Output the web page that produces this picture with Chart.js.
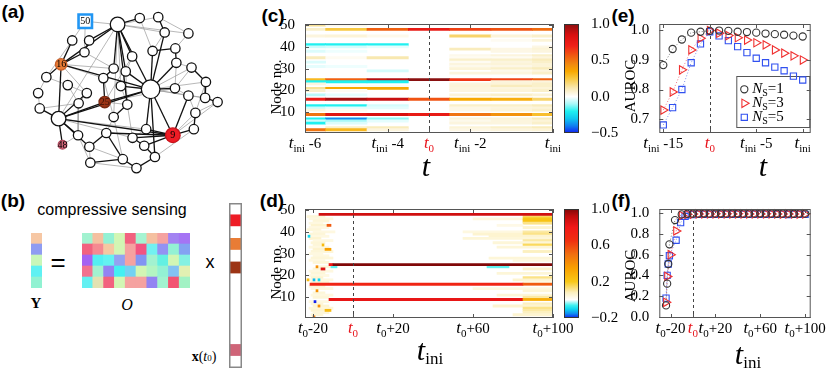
<!DOCTYPE html>
<html>
<head>
<meta charset="utf-8">
<script src="https://cdn.jsdelivr.net/npm/chart.js@4.4.0/dist/chart.umd.min.js"></script>
<style>
  body { margin: 0; background: #fff; }
  #wrap { position: relative; width: 831px; height: 370px; overflow: hidden; background: #fff; }
  #wrap canvas { position: absolute; }
  .lab { position: absolute; transform: translate(-50%, -50%); line-height: 1; white-space: nowrap; color: #000; }
  .pl { font: bold 19px "Liberation Sans", Arial, sans-serif; }
  .sans { font-family: "Liberation Sans", Arial, sans-serif; }
  .serif { font-family: "Liberation Serif", "Times New Roman", serif; }
</style>
</head>
<body>
<div id="wrap">
  <div class="lab pl" style="left:13px;top:12px">(a)</div>
  <div class="lab pl" style="left:13px;top:201px">(b)</div>
  <div class="lab pl" style="left:273px;top:16px">(c)</div>
  <div class="lab pl" style="left:272px;top:201px">(d)</div>
  <div class="lab pl" style="left:623px;top:16px">(e)</div>
  <div class="lab pl" style="left:621px;top:201px">(f)</div>
  <div class="lab sans" style="left:112px;top:210px;font-size:16px">compressive sensing</div>
  <div class="lab sans" style="left:58px;top:262px;font-size:26px">=</div>
  <div class="lab sans" style="left:210px;top:262px;font-size:18px">x</div>
  <div class="lab serif" style="left:36px;top:303px;font-size:15px;font-weight:bold">Y</div>
  <div class="lab serif" style="left:127px;top:305px;font-size:16px;font-style:italic">O</div>
  <div class="lab serif" style="left:204px;top:357px;font-size:14px"><b>x</b>(<i>t</i><span style="font-size:9px">0</span>)</div>
</div>
<script>
// ---------- data ----------
// (a) network layout (layout units 0-100) and links
const nodeX = [43.3,60.3,13,71.7,14.3,36.7,15,26.7,54.7,64.2,67.5,79.7,20,28.7,26.3,50.8,61.3,73,73.5,41.3,47.5,36,6.7,81.3,88.7,17.7,27.5,2.5,45,72.8,79.7,88.3,94.7,23.3,48.3,3.3,41.3,83.3,58,82.5,23,37.5,51,57,28.8,46,62.5,29.3,53];
const nodeY = [7,47.6,66,76.4,32,55.6,82.4,5,3,2.4,12,12.6,17,17,24.4,27,23.6,22,31,34.6,36.4,40.6,40,34,43,45,50,50,45.6,47,51.6,53,55.6,56.4,57.2,59.6,65,62.4,72.6,72.6,76.4,75,78,83,83.6,91.4,90,93.6,97];
const labeledNodes = [3, 4, 5, 6, 7];
const labeledText = ['9', '16', '25', '48', '50'];
const strongLinks = [[0,13],[0,4],[0,19],[0,1],[0,15],[0,20],[0,8],[0,34],[4,12],[4,2],[4,1],[4,22],[4,14],[13,14],
  [2,1],[2,3],[2,5],[2,6],[2,40],[2,35],[2,26],[2,44],[1,3],[1,10],[1,16],[1,29],[1,38],[1,5],[1,46],[1,18],[1,28],[1,20],
  [3,38],[3,39],[3,42],[3,43],[3,41],[3,30],[41,45],[41,44],[42,43],[45,48],[45,47],[46,48],[43,46],
  [10,9],[17,18],[23,24],[24,31],[31,32],[37,39],[19,21],[21,5],[36,34],[16,17]];
const weakLinks = [[7,0],[7,12],[7,14],[0,9],[0,11],[0,10],[0,2],[0,36],[0,28],[8,16],[9,11],[11,17],[10,16],
  [4,21],[4,19],[4,26],[12,22],[14,19],[15,28],[15,5],[20,34],[21,36],[22,27],[22,25],[25,33],[25,26],[27,35],
  [35,33],[26,33],[33,40],[40,47],[40,6],[44,47],[2,38],[2,42],[5,34],[5,29],[28,34],[34,42],[36,41],[38,42],
  [18,23],[23,29],[29,30],[30,37],[24,37],[32,37],[31,30],[18,29],[1,23],[1,24],[1,31],[1,30],[3,37],[3,32],
  [39,46],[36,45],[44,45],[47,48]];

// (b) compressive sensing cartoon
const yVecColors = ['#f6c7a4','#8f9cf2','#c9f7b9','#5ff1f3','#91f2d2'];
const oColumns = ['1','2','3','4','5','6','7','8','9','10'];
const oMatrix = [
  ['#a2f2d0','#f5c0a0','#93f1d4','#d2f6b4','#f2627f','#a6f4d2','#f5c0a0','#f5a2a0','#a383f2','#a574f4'],
  ['#f2627f','#f58a92','#f5c8a2','#d2f6b4','#f5a2a0','#f25481','#72f1f1','#9392f2','#93f1d4','#84a2f2'],
  ['#a463f2','#53f0f2','#63f3f1','#93a2f2','#f5a2a0','#8294f2','#a2f2d0','#63f0e2','#d2f6b4','#84f1e2'],
  ['#f2728f','#a2f2d0','#9383f2','#43f0f2','#73d2f2','#d2f6b4','#b3f5c2','#93f1d4','#83c2f2','#e2f0b2'],
  ['#63f0f2','#e2e2b2','#f2627f','#d2f6b4','#f5a2a0','#f5a2a0','#9383f2','#a2f2d0','#f25472','#a2f2c4']
];
const xVecColors = ['#ffffff','#ee1c25','#ffffff','#e97c35','#ffffff','#9c3415','#ffffff','#ffffff','#ffffff','#ffffff','#ffffff','#ffffff','#cf6478','#ffffff'];

// (c) heatmap: columns t_ini-6 ... t_ini, rows = node numbers
const cTimes = [-6, -5, -4, -3, -2, -1, 0];
const heatCNodes = [50,48,45,43,41,40,39,38,36,35,34,33,32,31,30,29,28,25,24,23,22,21,20,18,16,13,12,11,9,7,6,5,3,2];
const heatCValues = [
  [0.15,0.03,0,0,0,0,0],
  [0.08,0.25,0.55,0.75,0.62,0.58,0.52],
  [0.05,0.06,0.03,0,0.2,0.06,0.08],
  [0,0,0,0,0,0.02,0.06],
  [-0.2,-0.2,-0.2,0,0,0,0],
  [-0.06,-0.05,-0.03,0,0,0,0.04],
  [0,0,0,0,0.1,0.04,0.06],
  [-0.04,-0.02,0,0,0,0.04,0.05],
  [0,0,0,0,0.03,0.05,0.08],
  [0.1,0.02,0.12,0,0.02,0.02,0.05],
  [0,0,0,0,0.08,0.08,0.1],
  [-0.04,0,0,0,0.02,0.05,0.08],
  [0,0,0,0,0.05,0.06,0.06],
  [-0.03,-0.02,0,0,0.03,0.04,0.06],
  [0,0,0,0,0.06,0.08,0.1],
  [0,0,-0.05,0,0,0.03,0.05],
  [0,0,0,0,0.05,0.05,0.08],
  [0.3,0.55,0.92,1.0,0.65,0.62,0.55],
  [-0.2,-0.2,-0.2,0,0,0.05,0.05],
  [0.05,0,0,0,0.05,0.06,0.08],
  [0,0.02,0.02,0,0.06,0.1,0.08],
  [0.15,0.35,0.35,0,0.05,0.05,0.06],
  [0.08,0.02,0,0,0.05,0.06,0.08],
  [-0.08,-0.03,0,0,0.06,0.08,0.06],
  [0.75,0.95,0.88,0.58,0.35,0.33,0.2],
  [-0.2,-0.2,-0.05,0,0.08,0.08,0.1],
  [-0.06,-0.03,-0.03,0,0.04,0.05,0.06],
  [0.05,0.02,0,0,0.04,0.06,0.08],
  [0.5,0.8,0.85,0.75,0.5,0.42,0.28],
  [-0.2,-0.38,-0.12,0,0.06,0.06,0.1],
  [-0.06,-0.1,-0.03,0,0.03,0.05,0.06],
  [-0.2,-0.04,0,0,0.05,0.05,0.08],
  [0,0.08,0.1,0,0.06,0.08,0.1],
  [0.5,0.3,0.05,0,0.04,0.05,0.06]
];
const cTickVals = [-6, -4, -3, -2, 0];
const cTickSubs = ['ini', 'ini', '0', 'ini', 'ini'];
const cTickSuffix = [' -6', ' -4', '', ' -2', ''];
const cYTicks = [10, 20, 30, 40, 50];
const cBarTicks = [-0.5, 0, 0.5, 1.0];

// (d) heatmap as runs along t_ini: [node, from, to, value]
const heatDSegs = [
  [47,-23,-14,0.05],[46,-22,-10,0.04],[45,-20,-12,0.05],[44,-22,-15,0.04],[43,-21,-13,0.06],[42,-22,-12,0.04],
  [41,-23,-16,0.05],[40,-20,-9,0.04],[39,-22,-14,0.05],[38,-21,-12,0.04],[37,-22,-16,0.06],[36,-20,-10,0.04],
  [35,-21,-14,0.05],[34,-20,-16,0.05],[33,-22,-12,0.04],[32,-20,-14,0.06],[31,-21,-10,0.05],[30,-22,-15,0.04],
  [29,-20,-12,0.04],[28,-21,-10,0.05],[27,-22,-14,0.04],[26,-20,-12,0.05],[24,-17,-11,0.05],[23,-20,-16,0.05],
  [22,-22,-10,0.04],[21,-21,-14,0.05],[20,-22,-12,0.04],[19,-21,-15,0.06],[18,-22,-10,0.04],[17,-21,-12,0.05],
  [15,-22,-14,0.05],[14,-21,-10,0.04],[12,-20,-14,0.05],[11,-21,-10,0.04],[10,-20,-12,0.05],[8,-22,-12,0.04],
  [7,-21,-15,0.05],[6,-20,-12,0.06],[5,-22,-10,0.05],[4,-21,-14,0.06],[3,-20,-12,0.05],[2,-21,-15,0.05],
  [43,-13,-11,0.55],[38,-22.5,-21.5,-0.1],[34,-15.5,-14.5,0.25],[32,-14,-11,0.35],[24,-18.5,-17.5,0.4],
  [24,-11,-8,-0.05],[23,-16,-14,0.85],[18,-23,-22,0.25],[18,-20,-19,-0.12],[18,-17.5,-16.5,-0.1],
  [13,-18.5,-17.5,0.4],[8,-19.5,-18.5,-0.2],[6,-17.5,-16.5,0.4],[4,-14,-11,0.25],[1,-20,-19,0.45],
  [47,85,100,0.15],[46,60,85,0.04],[46,85,100,0.2],[45,85,100,0.22],[44,85,100,0.12],[43,72,85,0.03],
  [42,85,100,0.06],[40,55,85,0.04],[40,85,100,0.1],[39,60,85,0.06],[39,85,100,0.12],[38,68,100,0.06],
  [37,55,100,0.05],[36,85,100,0.1],[35,70,100,0.05],[34,85,100,0.15],[33,72,100,0.05],[31,85,100,0.08],
  [28,68,100,0.05],[27,80,100,0.04],[24,67,78,-0.05],[23,85,100,0.06],[21,72,100,0.05],[19,85,100,0.12],
  [18,80,100,0.06],[17,85,100,0.04],[14,60,100,0.04],[13,85,100,0.05],[11,72,100,0.05],[10,85,100,0.1],
  [7,85,100,0.08],[6,70,100,0.06],[5,85,100,0.12],[4,85,100,0.1],[3,85,100,0.08],[2,80,100,0.06],
  [48,-17,100,0.88],[25,-12,-10,0.8],[25,-10,100,1.0],[16,-21.5,85,0.72],[16,85,100,0.55],[9,-12,85,0.82],[9,85,100,0.3]
];
const dTickVals = [-20, 0, 20, 60, 100];
const dTickSubs = ['0', '0', '0', '0', '0'];
const dTickSuffix = ['-20', '', '+20', '+60', '+100'];
const dBarTicks = [-0.2, 0, 0.2, 0.4, 0.6, 0.8, 1.0];

// (e) AUROC vs t
const eT = [-15,-14,-13,-12,-11,-10,-9,-8,-7,-6,-5,-4,-3,-2,-1,0];
const eN1 = [0.882,0.936,0.968,0.991,0.994,0.997,0.998,0.997,0.994,0.993,0.991,0.988,0.986,0.984,0.981,0.978];
const eN3 = [0.731,0.792,0.866,0.933,0.972,0.998,0.989,0.981,0.974,0.966,0.957,0.950,0.933,0.922,0.913,0.899];
const eN5 = [0.681,0.739,0.800,0.890,0.953,0.994,0.980,0.964,0.944,0.924,0.905,0.890,0.875,0.863,0.845,0.832];
const eTickVals = [-15, -10, -5, 0];
const eTickSubs = ['ini', '0', 'ini', 'ini'];
const eTickSuffix = [' -15', '', ' -5', ''];
const eYTicks = [0.7, 0.8, 0.9, 1.0];

// (f) AUROC vs t_ini (t relative to t0)
const fEarlyT1 = [-24,-23,-22,-21,-16,-10];
const fEarly1 = [0.11,0.32,0.51,0.70,0.935,0.99];
const fEarlyT3 = [-24,-23,-20,-15,-10];
const fEarly3 = [0.14,0.39,0.60,0.83,0.98];
const fEarlyT5 = [-24,-23,-22,-21,-15,-11,-7];
const fEarly5 = [0.18,0.40,0.51,0.59,0.74,0.91,0.97];
const fLateT = [-5,0,5,10,15,20,25,30,35,40,45,50,55,60,65,70,75,80,85,90,95,100];
const fLate1 = [0.995,0.997,0.997,0.998,0.997,0.997,0.998,0.997,0.997,0.998,0.997,0.997,0.997,0.998,0.997,0.997,0.996,0.997,0.997,0.996,0.997,0.997];
const fLate3 = [0.99,0.993,0.994,0.995,0.994,0.995,0.994,0.995,0.994,0.995,0.994,0.994,0.995,0.994,0.995,0.994,0.994,0.993,0.994,0.994,0.993,0.994];
const fLate5 = [0.985,0.988,0.99,0.99,0.99,0.991,0.99,0.99,0.991,0.99,0.99,0.99,0.991,0.99,0.99,0.99,0.99,0.99,0.989,0.99,0.99,0.99];
const fYTicks = [0, 0.2, 0.4, 0.6, 0.8, 1.0];

// ---------- helpers ----------
const SERIF = '"Liberation Serif", "Times New Roman", serif';
const wrap = document.getElementById('wrap');
Chart.defaults.animation = false;
Chart.defaults.responsive = false;
Chart.defaults.events = [];
Chart.defaults.plugins.legend.display = false;
Chart.defaults.plugins.tooltip.enabled = false;
Chart.defaults.font.family = SERIF;
Chart.defaults.color = '#000';

function canvasAt(left, top, w, h) {
  const c = document.createElement('canvas');
  c.width = w; c.height = h;
  c.style.left = left + 'px'; c.style.top = top + 'px';
  c.style.width = w + 'px'; c.style.height = h + 'px';
  wrap.appendChild(c);
  return c;
}

function cmap(stops) {
  const s = stops.map(p => [p[0], parseInt(p[1].slice(1, 3), 16), parseInt(p[1].slice(3, 5), 16), parseInt(p[1].slice(5, 7), 16)]);
  const fmt = (a) => 'rgb(' + Math.round(a[0]) + ',' + Math.round(a[1]) + ',' + Math.round(a[2]) + ')';
  return v => {
    if (v <= s[0][0]) return fmt(s[0].slice(1));
    for (let i = 1; i < s.length; i++) {
      if (v <= s[i][0]) {
        const a = s[i - 1], b = s[i], f = (v - a[0]) / (b[0] - a[0]);
        return fmt([a[1] + (b[1] - a[1]) * f, a[2] + (b[2] - a[2]) * f, a[3] + (b[3] - a[3]) * f]);
      }
    }
    return fmt(s[s.length - 1].slice(1));
  };
}
const colorC = cmap([[-0.5,'#1020f0'],[-0.4,'#1080f0'],[-0.3,'#10c8f0'],[-0.2,'#20f0f0'],[-0.1,'#a8f8f8'],[0,'#ffffff'],
  [0.12,'#f8e8b0'],[0.25,'#f8c840'],[0.35,'#f8a800'],[0.45,'#f08810'],[0.55,'#f06010'],[0.7,'#f02018'],[0.85,'#d81010'],[1.0,'#8a1010']]);
const colorD = cmap([[-0.2,'#1020f0'],[-0.15,'#1090f0'],[-0.1,'#10d8f0'],[-0.06,'#40f0f0'],[-0.02,'#c0f8f8'],[0,'#ffffff'],
  [0.08,'#fcf0c0'],[0.2,'#f8c818'],[0.35,'#f8a000'],[0.5,'#f07010'],[0.65,'#f03010'],[0.8,'#f01818'],[0.92,'#c00c0c'],[1.0,'#800808']]);

function rich(ctx, cx, cy, parts) {
  let w = 0;
  parts.forEach(p => { ctx.font = p.f; p.w = ctx.measureText(p.t).width; w += p.w; });
  let xx = cx - w / 2;
  ctx.textAlign = 'left';
  ctx.textBaseline = 'middle';
  parts.forEach(p => { ctx.font = p.f; ctx.fillStyle = p.c; ctx.fillText(p.t, xx, cy + p.dy); xx += p.w; });
}

// frame, inward ticks, t0 marker, rich tick labels and titles
function decor(o) {
  return {
    id: 'decor',
    afterDatasetsDraw(chart) {
      const {ctx, chartArea: a, scales: {x, y}} = chart;
      ctx.save();
      const px0 = x.getPixelForValue(o.t0);
      ctx.strokeStyle = '#444'; ctx.lineWidth = 1; ctx.setLineDash([3, 3]);
      ctx.beginPath(); ctx.moveTo(Math.round(px0) + 0.5, a.top); ctx.lineTo(Math.round(px0) + 0.5, a.bottom); ctx.stroke();
      ctx.setLineDash([]);
      ctx.strokeStyle = '#555';
      ctx.strokeRect(a.left + 0.5, a.top + 0.5, a.width - 1, a.height - 1);
      ctx.beginPath();
      y.ticks.forEach(t => {
        const py = Math.round(y.getPixelForValue(t.value)) + 0.5;
        ctx.moveTo(a.left, py); ctx.lineTo(a.left + 4, py);
        ctx.moveTo(a.right - 4, py); ctx.lineTo(a.right, py);
      });
      o.tickVals.forEach(v => {
        const px = Math.round(x.getPixelForValue(v)) + 0.5;
        ctx.moveTo(px, a.bottom); ctx.lineTo(px, a.bottom - 4);
        ctx.moveTo(px, a.top); ctx.lineTo(px, a.top + 4);
      });
      ctx.stroke();
      o.tickVals.forEach((v, i) => {
        const col = (o.tickSubs[i] === '0' && o.tickSuffix[i] === '') ? '#e8141c' : '#000';
        rich(ctx, x.getPixelForValue(v), a.bottom + 11, [
          {t: 't', f: 'italic 17px ' + SERIF, dy: 0, c: col},
          {t: o.tickSubs[i], f: '11px ' + SERIF, dy: 5, c: col},
          {t: o.tickSuffix[i], f: '15px ' + SERIF, dy: 0, c: col}
        ]);
      });
      const tp = [{t: 't', f: 'italic 30px ' + SERIF, dy: 0, c: '#000'}];
      if (o.titleSub) tp.push({t: o.titleSub, f: '17px ' + SERIF, dy: 8, c: '#000'});
      rich(ctx, o.titleX - o.left, o.titleY - o.top, tp);
      ctx.translate(o.yTitleX - o.left, o.yTitleY - o.top);
      ctx.rotate(-Math.PI / 2);
      ctx.font = '15px ' + SERIF; ctx.fillStyle = '#000';
      ctx.textAlign = 'center'; ctx.textBaseline = 'middle';
      ctx.fillText(o.yTitle, 0, 0);
      ctx.restore();
    }
  };
}

const fixW = w => (s => { s.width = w; });
const setTicks = vals => (s => { s.ticks = vals.map(v => ({value: v})); });
const one = v => v.toFixed(1);
const signed = v => (v < 0 ? '\u2212' + Math.abs(v).toFixed(1) : v.toFixed(1));
const rowThickness = c => {
  const s = c.chart.scales.y;
  return s ? Math.abs(s.getPixelForValue(1) - s.getPixelForValue(0)) : 2;
};

// ---------- (a) network ----------
(function () {
  const cv = canvasAt(0, 0, 240, 185);
  const big = {0: 7.3, 1: 9.3, 2: 7.3, 3: 7.3, 4: 5.7, 5: 5.7, 6: 4.3, 7: 9.5};
  const fill = {3: '#ee1c25', 4: '#e97c35', 5: '#9c3415', 6: '#cf6478'};
  const edge = {3: '#c81018', 4: '#c8602a', 5: '#7a2810', 6: '#b04a5e', 7: '#2196f3'};
  const pts = nodeX.map((x, i) => ({x: x, y: nodeY[i]}));
  const datasets = [{
    data: pts,
    pointRadius: pts.map((p, i) => big[i] || 4.7),
    pointStyle: pts.map((p, i) => (i === 7 ? 'rect' : 'circle')),
    backgroundColor: pts.map((p, i) => fill[i] || '#ffffff'),
    pointBorderColor: pts.map((p, i) => edge[i] || '#111'),
    pointBorderWidth: pts.map((p, i) => (i === 7 ? 2.6 : 1.3)),
    showLine: false,
    clip: false
  }];
  strongLinks.forEach(l => datasets.push({data: [pts[l[0]], pts[l[1]]], showLine: true, borderColor: '#111', borderWidth: 1.3, pointRadius: 0, clip: false}));
  weakLinks.forEach(l => datasets.push({data: [pts[l[0]], pts[l[1]]], showLine: true, borderColor: '#9a9a9a', borderWidth: 0.7, pointRadius: 0, clip: false}));
  new Chart(cv, {
    type: 'scatter',
    data: {datasets},
    options: {
      devicePixelRatio: 1,
      layout: {padding: {left: 33.3, right: 6.7, top: 13.3, bottom: 5}},
      scales: {x: {display: false, min: 0, max: 100}, y: {display: false, min: 0, max: 100, reverse: true}}
    },
    plugins: [{
      id: 'nodeLabels',
      afterDatasetsDraw(chart) {
        const {ctx, scales: {x, y}} = chart;
        ctx.save();
        ctx.font = '10px ' + SERIF; ctx.textAlign = 'center'; ctx.textBaseline = 'middle';
        labeledNodes.forEach((n, i) => {
          ctx.fillStyle = n === 5 ? '#3a1208' : '#000';
          ctx.fillText(labeledText[i], x.getPixelForValue(nodeX[n]), y.getPixelForValue(nodeY[n]) + 0.5);
        });
        ctx.restore();
      }
    }]
  });
})();

// ---------- (b) compressive sensing cartoon ----------
function stackChart(cv, labels, rows, framed) {
  const datasets = rows.slice().reverse().map(row => ({
    data: row.map(() => 1), backgroundColor: row, borderWidth: 0, categoryPercentage: 1, barPercentage: 1
  }));
  return new Chart(cv, {
    type: 'bar',
    data: {labels, datasets},
    options: {
      devicePixelRatio: 1,
      layout: {padding: 0},
      scales: {x: {display: false, stacked: true}, y: {display: false, stacked: true, min: 0, max: rows.length}}
    },
    plugins: framed ? [{
      id: 'frame',
      afterDatasetsDraw(chart) {
        const {ctx, chartArea: a} = chart;
        ctx.save(); ctx.strokeStyle = '#888'; ctx.lineWidth = 1.5;
        ctx.strokeRect(a.left + 0.75, a.top + 0.75, a.width - 1.5, a.height - 1.5);
        ctx.restore();
      }
    }] : []
  });
}
stackChart(canvasAt(31, 233, 11, 55), ['Y'], yVecColors.map(c => [c]), false);
stackChart(canvasAt(82, 233, 108, 55), oColumns, oMatrix, false);
stackChart(canvasAt(229, 203, 13, 165), ['x'], xVecColors.map(c => [c]), true);

// ---------- heatmaps (c) and (d) ----------
function heatChart(left, top, cells, cmapFn, xMin, xMax, t0, ticks, titleSub, titleX, titleY) {
  const cv = canvasAt(left, top, 340, 185);
  return new Chart(cv, {
    type: 'bar',
    data: {datasets: [{
      data: cells,
      backgroundColor: c => (c.raw ? cmapFn(c.raw.v) : 'rgba(0,0,0,0)'),
      borderWidth: 0,
      grouped: false,
      barThickness: rowThickness,
      barPercentage: 1,
      categoryPercentage: 1
    }]},
    options: {
      devicePixelRatio: 1,
      indexAxis: 'y',
      layout: {padding: {left: 0, top: 24, right: 27, bottom: 52}},
      scales: {
        x: {type: 'linear', display: false, min: xMin, max: xMax, offset: false},
        y: {
          type: 'linear', min: 0.5, max: 50.5, offset: false,
          grid: {display: false}, border: {display: false},
          ticks: {font: {size: 15}, padding: 2},
          afterBuildTicks: setTicks(cYTicks), afterFit: fixW(65)
        }
      }
    },
    plugins: [decor(Object.assign({t0, left, top, titleSub, titleX, titleY,
      yTitle: 'Node no.', yTitleX: 277, yTitleY: top + 87}, ticks))]
  });
}

function colorbar(left, top, cmapFn, min, max, tickVals) {
  const cv = canvasAt(left, top, 60, 185);
  return new Chart(cv, {
    type: 'scatter',
    data: {datasets: []},
    options: {
      devicePixelRatio: 1,
      layout: {padding: {left: 6, top: 24, right: 0, bottom: 52}},
      scales: {
        x: {display: false, min: 0, max: 1},
        y: {
          position: 'right', min, max,
          grid: {display: false}, border: {display: false},
          ticks: {font: {size: 15}, padding: 4, callback: signed},
          afterBuildTicks: setTicks(tickVals), afterFit: fixW(39)
        }
      }
    },
    plugins: [{
      id: 'gradient',
      beforeDatasetsDraw(chart) {
        const {ctx, chartArea: a, scales: {y}} = chart;
        ctx.save();
        for (let py = Math.floor(a.top); py < a.bottom; py++) {
          ctx.fillStyle = cmapFn(y.getValueForPixel(py + 0.5));
          ctx.fillRect(a.left, py, a.width, 1);
        }
        ctx.strokeStyle = '#333'; ctx.lineWidth = 1;
        ctx.strokeRect(a.left + 0.5, a.top + 0.5, a.width - 1, a.height - 1);
        ctx.restore();
      }
    }]
  });
}

const cCells = [];
heatCNodes.forEach((n, i) => heatCValues[i].forEach((v, j) => {
  if (v !== 0) cCells.push({y: n, x: [cTimes[j] - 0.5, cTimes[j] + 0.5], v: v});
}));
colorbar(558, 0, colorC, -0.5, 1.0, cBarTicks);
heatChart(240, 0, cCells, colorC, -6, 0, -3,
  {tickVals: cTickVals, tickSubs: cTickSubs, tickSuffix: cTickSuffix}, '', 426, 168);

const dCells = heatDSegs.map(s => ({y: s[0], x: [s[1], s[2]], v: s[3]}));
colorbar(558, 185, colorD, -0.2, 1.0, dBarTicks);
heatChart(240, 185, dCells, colorD, -24, 100, 0,
  {tickVals: dTickVals, tickSubs: dTickSubs, tickSuffix: dTickSuffix}, 'ini', 430, 352);

// ---------- AUROC panels (e) and (f) ----------
const markerSets = [
  {pointStyle: 'circle', rotation: 0, pointRadius: 3.6, pointBorderColor: '#333', dot: '#777'},
  {pointStyle: 'triangle', rotation: 90, pointRadius: 4.8, pointBorderColor: '#f03030', dot: '#f07080'},
  {pointStyle: 'rect', rotation: 0, pointRadius: 4.4, pointBorderColor: '#3050f0', dot: '#8090f0'}
];
function pairs(xs, ys) { return xs.map((x, i) => ({x: x, y: ys[i]})); }

function aurocChart(top, series, dotted, xMin, xMax, yMin, yMax, yTicks, t0, ticks, titleSub, titleX, titleY, legend) {
  const left = 610;
  const cv = canvasAt(left, top, 221, 185);
  const datasets = [];
  series.forEach((d, k) => datasets.push({
    data: d, showLine: false, pointStyle: markerSets[k].pointStyle, rotation: markerSets[k].rotation,
    pointRadius: markerSets[k].pointRadius, pointBorderColor: markerSets[k].pointBorderColor,
    pointBackgroundColor: 'rgba(0,0,0,0)', pointBorderWidth: 1.1, clip: false
  }));
  dotted.forEach((d, k) => datasets.push({
    data: d, showLine: true, pointRadius: 0, borderColor: markerSets[k].dot, borderWidth: 1, borderDash: [1, 2]
  }));
  const plugins = [decor(Object.assign({t0, left, top, titleSub, titleX, titleY,
    yTitle: 'AUROC', yTitleX: 631, yTitleY: top + (legend ? 86 : 91)}, ticks))];
  if (legend) plugins.push({
    id: 'legendBox',
    beforeDatasetsDraw(chart) {
      const {ctx, chartArea: a} = chart;
      const bx = a.left + 77, by = a.top + 52;
      ctx.save();
      ctx.fillStyle = '#fff'; ctx.fillRect(bx, by, 74, 52);
      ctx.strokeStyle = '#555'; ctx.lineWidth = 1; ctx.strokeRect(bx + 0.5, by + 0.5, 73, 51);
      legend.forEach((txt, k) => {
        const cy = by + 13.3 + 14 * k;
        const m = markerSets[k];
        ctx.strokeStyle = m.pointBorderColor; ctx.fillStyle = 'rgba(0,0,0,0)'; ctx.lineWidth = 1.1;
        Chart.helpers.drawPoint(ctx, {pointStyle: m.pointStyle, rotation: m.rotation, radius: m.pointRadius, borderWidth: 1.1}, bx + 8, cy);
        const parts = [
          {t: 'N', f: 'italic 15px ' + SERIF, dy: 0, c: '#000'},
          {t: 'S', f: '10px ' + SERIF, dy: 4, c: '#000'},
          {t: txt, f: '15px ' + SERIF, dy: 0, c: '#000'}
        ];
        let w = 0;
        parts.forEach(p => { ctx.font = p.f; w += ctx.measureText(p.t).width; });
        rich(ctx, bx + 16 + w / 2, cy, parts);
      });
      ctx.restore();
    }
  });
  return new Chart(cv, {
    type: 'scatter',
    data: {datasets},
    options: {
      devicePixelRatio: 1,
      layout: {padding: {left: 0, top: 24, right: 20.3, bottom: 52}},
      scales: {
        x: {type: 'linear', display: false, min: xMin, max: xMax},
        y: {
          min: yMin, max: yMax, grid: {display: false}, border: {display: false},
          ticks: {font: {size: 15}, padding: 2, callback: one},
          afterBuildTicks: setTicks(yTicks), afterFit: fixW(49.3)
        }
      }
    },
    plugins
  });
}

aurocChart(0,
  [pairs(eT, eN1), pairs(eT, eN3), pairs(eT, eN5)],
  [pairs(eT.slice(0, 6), eN1.slice(0, 6)), pairs(eT.slice(0, 6), eN3.slice(0, 6)), pairs(eT.slice(0, 6), eN5.slice(0, 6))],
  -15.43, 0.86, 0.654, 1.02, eYTicks, -10,
  {tickVals: eTickVals, tickSubs: eTickSubs, tickSuffix: eTickSuffix}, '', 763, 168,
  ['=1', '=3', '=5']);

aurocChart(185,
  [pairs(fEarlyT1.concat(fLateT), fEarly1.concat(fLate1)),
   pairs(fEarlyT3.concat(fLateT), fEarly3.concat(fLate3)),
   pairs(fEarlyT5.concat(fLateT), fEarly5.concat(fLate5))],
  [pairs(fEarlyT1, fEarly1), pairs(fEarlyT3, fEarly3), pairs(fEarlyT5, fEarly5)],
  -30, 105, -0.012, 1.042, fYTicks, 0,
  {tickVals: dTickVals, tickSubs: dTickSubs, tickSuffix: dTickSuffix}, 'ini', 748, 356,
  null);
</script>
</body>
</html>
